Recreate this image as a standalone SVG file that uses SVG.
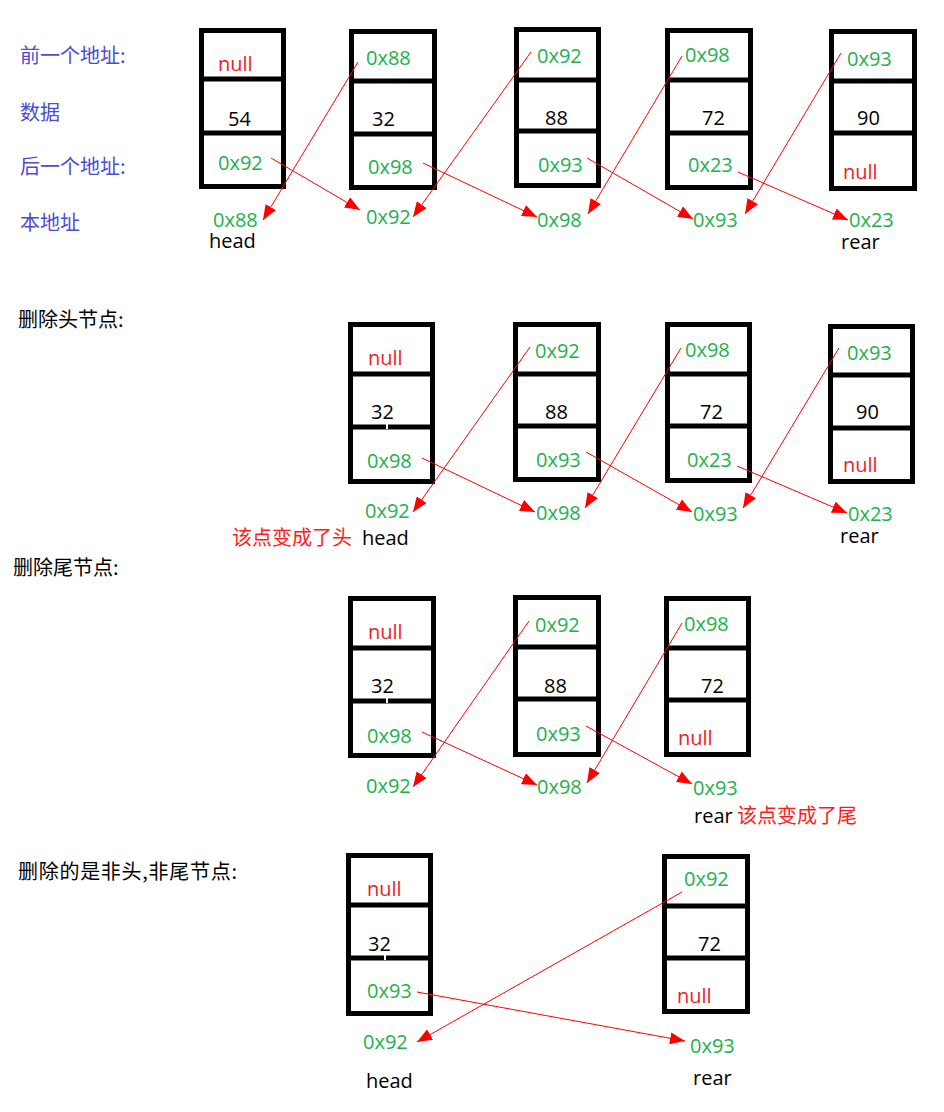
<svg xmlns="http://www.w3.org/2000/svg" width="944" height="1112" viewBox="0 0 944 1112">
<defs>
<style>
.box{fill:none;stroke:#000;stroke-width:5}
.div{stroke:#000;stroke-width:5}
.t{font-family:"Open Sans","Noto Sans","Liberation Sans",sans-serif;font-size:20px}
.g{fill:#22b14c}
.r{fill:#ed1c24}
.k{fill:#000}
.lab{font-family:"Noto Sans CJK SC","Noto Sans",sans-serif;font-size:20px}
.blue{fill:#4b4bd8}
.cn{font-family:"Noto Sans CJK SC","Noto Sans",sans-serif;font-size:20px;fill:#000}
.cnr{font-family:"Noto Sans CJK SC","Noto Sans",sans-serif;font-size:20px;fill:#ff1a1a}
.arr{stroke:#ff0000;stroke-width:1;fill:none;marker-end:url(#ah)}
.notch{fill:#fff}
</style>
<marker id="ah" markerUnits="userSpaceOnUse" markerWidth="16" markerHeight="12" refX="15" refY="6" orient="auto">
<path d="M0,0 L15,6 L0,12 Z" fill="#ff0000"/>
</marker>
</defs>
<rect width="944" height="1112" fill="#fff"/>

<g id="labels">
<text class="lab blue" x="20" y="63">前一个地址:</text>
<text class="lab blue" x="20" y="120">数据</text>
<text class="lab blue" x="20" y="174">后一个地址:</text>
<text class="lab blue" x="20" y="230">本地址</text>
<text class="cn" x="18" y="327">删除头节点:</text>
<text class="cn" x="13" y="575">删除尾节点:</text>
<text class="cn" x="18" y="879" textLength="219" lengthAdjust="spacing">删除的是非头,非尾节点:</text>
</g>

<!-- Section 1 -->
<g id="s1n1">
<rect class="box" x="201.5" y="30.5" width="82" height="156"/>
<line class="div" x1="199" y1="79" x2="286" y2="79"/>
<line class="div" x1="199" y1="133" x2="286" y2="133"/>
<text class="t r" x="218" y="71">null</text>
<text class="t k" x="228" y="126">54</text>
<text class="t g" x="218" y="170">0x92</text>
<text class="t g" x="213" y="227">0x88</text>
<text class="t k" x="209" y="248">head</text>
</g>
<g id="s1n2">
<rect class="box" x="351.5" y="31.5" width="83" height="156"/>
<line class="div" x1="349" y1="81" x2="437" y2="81"/>
<line class="div" x1="349" y1="134" x2="437" y2="134"/>
<text class="t g" x="366" y="65">0x88</text>
<text class="t k" x="372" y="126">32</text>
<text class="t g" x="368" y="174">0x98</text>
<text class="t g" x="366" y="224">0x92</text>
</g>
<g id="s1n3">
<rect class="box" x="516.5" y="29.5" width="82" height="156"/>
<line class="div" x1="514" y1="80" x2="601" y2="80"/>
<line class="div" x1="514" y1="131" x2="601" y2="131"/>
<text class="t g" x="537" y="63">0x92</text>
<text class="t k" x="545" y="125">88</text>
<text class="t g" x="538" y="172">0x93</text>
<text class="t g" x="537" y="227">0x98</text>
</g>
<g id="s1n4">
<rect class="box" x="667.5" y="30.5" width="83" height="157"/>
<line class="div" x1="665" y1="80" x2="753" y2="80"/>
<line class="div" x1="665" y1="133" x2="753" y2="133"/>
<text class="t g" x="685" y="62">0x98</text>
<text class="t k" x="702" y="125">72</text>
<text class="t g" x="688" y="172">0x23</text>
<text class="t g" x="693" y="227">0x93</text>
</g>
<g id="s1n5">
<rect class="box" x="831.5" y="31.5" width="83" height="157"/>
<line class="div" x1="829" y1="81" x2="917" y2="81"/>
<line class="div" x1="829" y1="133" x2="917" y2="133"/>
<text class="t g" x="847" y="66">0x93</text>
<text class="t k" x="857" y="125">90</text>
<text class="t r" x="843" y="179">null</text>
<text class="t g" x="849" y="227">0x23</text>
<text class="t k" x="841" y="249">rear</text>
</g>

<!-- Section 2 -->
<g id="s2n1">
<rect class="box" x="350.5" y="324.5" width="82" height="157"/>
<line class="div" x1="348" y1="374" x2="435" y2="374"/>
<line class="div" x1="348" y1="427" x2="435" y2="427"/>
<rect class="notch" x="386" y="424" width="2" height="5"/>
<text class="t r" x="368" y="365">null</text>
<text class="t k" x="371" y="419">32</text>
<text class="t g" x="367" y="468">0x98</text>
<text class="t g" x="365" y="518">0x92</text>
<text class="cnr" x="232" y="545">该点变成了头</text>
<text class="t k" x="362" y="545">head</text>
</g>
<g id="s2n2">
<rect class="box" x="515.5" y="324.5" width="83" height="155"/>
<line class="div" x1="513" y1="374" x2="601" y2="374"/>
<line class="div" x1="513" y1="426" x2="601" y2="426"/>
<text class="t g" x="535" y="358">0x92</text>
<text class="t k" x="545" y="419">88</text>
<text class="t g" x="536" y="467">0x93</text>
<text class="t g" x="536" y="520">0x98</text>
</g>
<g id="s2n3">
<rect class="box" x="667.5" y="324.5" width="82" height="156"/>
<line class="div" x1="665" y1="374" x2="752" y2="374"/>
<line class="div" x1="665" y1="426" x2="752" y2="426"/>
<text class="t g" x="685" y="357">0x98</text>
<text class="t k" x="700" y="419">72</text>
<text class="t g" x="687" y="467">0x23</text>
<text class="t g" x="693" y="521">0x93</text>
</g>
<g id="s2n4">
<rect class="box" x="830.5" y="326.5" width="82" height="155"/>
<line class="div" x1="828" y1="375" x2="915" y2="375"/>
<line class="div" x1="828" y1="428" x2="915" y2="428"/>
<text class="t g" x="847" y="360">0x93</text>
<text class="t k" x="856" y="419">90</text>
<text class="t r" x="843" y="472">null</text>
<text class="t g" x="848" y="521">0x23</text>
<text class="t k" x="840" y="543">rear</text>
</g>

<!-- Section 3 -->
<g id="s3n1">
<rect class="box" x="350.5" y="598.5" width="83" height="157"/>
<line class="div" x1="348" y1="648" x2="436" y2="648"/>
<line class="div" x1="348" y1="701" x2="436" y2="701"/>
<rect class="notch" x="386" y="698" width="2" height="5"/>
<text class="t r" x="368" y="639">null</text>
<text class="t k" x="371" y="693">32</text>
<text class="t g" x="367" y="743">0x98</text>
<text class="t g" x="366" y="793">0x92</text>
</g>
<g id="s3n2">
<rect class="box" x="515.5" y="597.5" width="83" height="157"/>
<line class="div" x1="513" y1="647" x2="601" y2="647"/>
<line class="div" x1="513" y1="699" x2="601" y2="699"/>
<text class="t g" x="535" y="632">0x92</text>
<text class="t k" x="544" y="693">88</text>
<text class="t g" x="536" y="741">0x93</text>
<text class="t g" x="537" y="794">0x98</text>
</g>
<g id="s3n3">
<rect class="box" x="666.5" y="598.5" width="82" height="156"/>
<line class="div" x1="664" y1="648" x2="751" y2="648"/>
<line class="div" x1="664" y1="700" x2="751" y2="700"/>
<text class="t g" x="684" y="631">0x98</text>
<text class="t k" x="701" y="693">72</text>
<text class="t r" x="678" y="745">null</text>
<text class="t g" x="693" y="795">0x93</text>
<text class="t k" x="694" y="823">rear</text>
<text class="cnr" x="737" y="823">该点变成了尾</text>
</g>

<!-- Section 4 -->
<g id="s4n1">
<rect class="box" x="348.5" y="855.5" width="82" height="158"/>
<line class="div" x1="346" y1="905" x2="433" y2="905"/>
<line class="div" x1="346" y1="958" x2="433" y2="958"/>
<rect class="notch" x="384" y="955" width="2" height="5"/>
<text class="t r" x="367" y="896">null</text>
<text class="t k" x="368" y="951">32</text>
<text class="t g" x="367" y="998">0x93</text>
<text class="t g" x="363" y="1049">0x92</text>
<text class="t k" x="366" y="1088">head</text>
</g>
<g id="s4n2">
<rect class="box" x="664.5" y="856.5" width="83" height="155"/>
<line class="div" x1="662" y1="906" x2="750" y2="906"/>
<line class="div" x1="662" y1="958" x2="750" y2="958"/>
<text class="t g" x="684" y="886">0x92</text>
<text class="t k" x="698" y="951">72</text>
<text class="t r" x="677" y="1003">null</text>
<text class="t g" x="690" y="1053">0x93</text>
<text class="t k" x="693" y="1085">rear</text>
</g>

<g id="connectors">
<line class="arr" x1="358" y1="62" x2="263" y2="220"/>
<line class="arr" x1="271" y1="158" x2="360" y2="210"/>
<line class="arr" x1="531" y1="52" x2="413" y2="217"/>
<line class="arr" x1="423" y1="163" x2="537" y2="217"/>
<line class="arr" x1="682" y1="56" x2="588" y2="214"/>
<line class="arr" x1="587" y1="158" x2="693" y2="219"/>
<line class="arr" x1="841" y1="53" x2="745" y2="214"/>
<line class="arr" x1="738" y1="172" x2="848" y2="220"/>

<line class="arr" x1="530" y1="347" x2="413" y2="512"/>
<line class="arr" x1="422" y1="458" x2="535" y2="512"/>
<line class="arr" x1="681" y1="348" x2="585" y2="508"/>
<line class="arr" x1="586" y1="452" x2="692" y2="512"/>
<line class="arr" x1="839" y1="348" x2="743" y2="508"/>
<line class="arr" x1="737" y1="466" x2="847" y2="513"/>

<line class="arr" x1="529" y1="621" x2="413" y2="787"/>
<line class="arr" x1="422" y1="732" x2="537" y2="785"/>
<line class="arr" x1="682" y1="623" x2="587" y2="783"/>
<line class="arr" x1="586" y1="726" x2="692" y2="784"/>

<line class="arr" x1="682" y1="892" x2="417" y2="1042"/>
<line class="arr" x1="417" y1="992" x2="685" y2="1041"/>
</g>
</svg>
